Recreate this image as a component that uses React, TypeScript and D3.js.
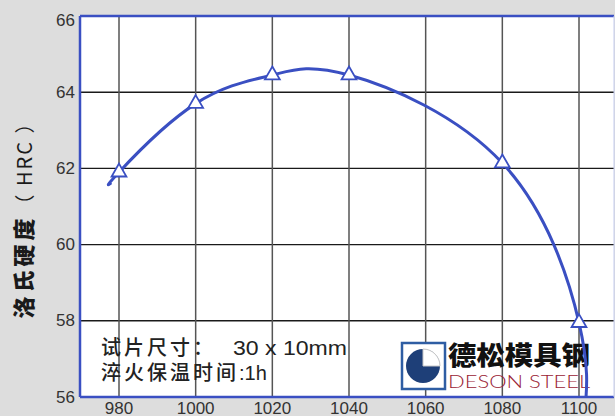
import React, { useEffect } from "react";
import * as d3 from "d3";

// 淬火温度 (°C) vs 洛氏硬度 (HRC)
const temps = [980, 1000, 1020, 1040, 1080, 1100];
const hardness = [61.9, 63.7, 64.45, 64.45, 62.14, 57.95];

// smooth trend curve (ends run past the first / last sample)
const curveTemps = [978, 980, 1000, 1020, 1040, 1080, 1100, 1101.6];
const curveHardness = [61.62, 61.9, 63.7, 64.45, 64.45, 62.14, 57.95, 55.7];

const xTicks = [980, 1000, 1020, 1040, 1060, 1080, 1100];
const yTicks = [56, 58, 60, 62, 64, 66];

const W = 615;
const H = 416;
const plot = { left: 80, top: 16, right: 614, bottom: 397 };

export default function App() {
  useEffect(() => {
    document.body.style.margin = "0";
  }, []);

  const x = d3
    .scaleLinear()
    .domain([980, 1100])
    .range([119, 579]);
  const y = d3
    .scaleLinear()
    .domain([56, 66])
    .range([plot.bottom, plot.top]);

  const line = d3
    .line<number>()
    .x((d) => x(d))
    .y((_, i) => y(curveHardness[i]))
    .curve(d3.curveNatural);

  const tri = d3.symbol().type(d3.symbolTriangle).size(95);

  const blue = "#3a4fc2";
  const font = "'Liberation Sans', Arial, sans-serif";
  const cjk = "'Noto Sans CJK SC', 'Noto Sans', sans-serif";

  return (
    <svg width={W} height={H} style={{ display: "block" }}>
      <defs>
        <clipPath id="plotClip">
          <rect
            x={plot.left}
            y={plot.top}
            width={plot.right - plot.left}
            height={plot.bottom - plot.top}
          />
        </clipPath>
      </defs>
      <rect width={W} height={H} fill="#dddddd" />
      <rect
        x={plot.left}
        y={plot.top}
        width={plot.right - plot.left}
        height={plot.bottom - plot.top}
        fill="#ffffff"
      />

      {/* grid */}
      {yTicks.slice(1, -1).map((t) => (
        <line
          key={"h" + t}
          x1={plot.left}
          x2={plot.right}
          y1={y(t)}
          y2={y(t)}
          stroke="#1a1a1a"
          strokeWidth={1.4}
        />
      ))}
      {xTicks.map((t) => (
        <line
          key={"v" + t}
          x1={x(t)}
          x2={x(t)}
          y1={plot.top}
          y2={plot.bottom}
          stroke="#555"
          strokeWidth={1.5}
        />
      ))}

      {/* note text */}
      <text x={101} y={355} fontFamily={cjk} fontSize={20} fontWeight={500} fill="#222">
        <tspan letterSpacing={3}>试片尺寸：</tspan>
        <tspan x={233} fontFamily={font} fontSize={20} textLength={114} lengthAdjust="spacingAndGlyphs">
          30 x 10mm
        </tspan>
      </text>
      <text x={101} y={380} fontFamily={cjk} fontSize={20} fontWeight={500} fill="#222">
        <tspan letterSpacing={3}>淬火保温时间</tspan>
        <tspan fontFamily={font} fontSize={20}>:1h</tspan>
      </text>

      {/* logo */}
      <g>
        <rect x={402} y={343} width={43} height={46} fill="#fff" stroke="#2e5da3" strokeWidth={2.5} />
        <circle cx={423} cy={366} r={17} fill="#1e3f78" />
        <path d="M423,366 L423,349 A17,17 0 0 1 440,366 Z" fill="#ffffff" stroke="#c8c8c8" strokeWidth={1} />
        <text
          x={448}
          y={365}
          fontFamily={cjk}
          fontSize={26}
          fontWeight={900}
          fill="#111"
          textLength={142}
          lengthAdjust="spacingAndGlyphs"
        >
          德松模具钢
        </text>
        <text
          x={448}
          y={388}
          fontFamily="Lato, 'Open Sans', sans-serif"
          fontSize={17}
          fontWeight={300}
          fill="#9a2234"
          textLength={142}
          lengthAdjust="spacingAndGlyphs"
        >
          DESON STEEL
        </text>
      </g>

      {/* curve */}
      <path
        d={line(curveTemps) ?? ""}
        fill="none"
        stroke={blue}
        strokeWidth={3}
        clipPath="url(#plotClip)"
      />
      {temps.map((t, i) => (
        <path
          key={"m" + t}
          d={tri() ?? ""}
          transform={`translate(${x(t)},${y(hardness[i])})`}
          fill="#fff"
          stroke={blue}
          strokeWidth={1.8}
        />
      ))}

      {/* frame */}
      <line x1={plot.left} x2={plot.right} y1={plot.top} y2={plot.top} stroke={blue} strokeWidth={2.5} />
      <line x1={plot.left} x2={plot.right} y1={plot.bottom} y2={plot.bottom} stroke={blue} strokeWidth={2.5} />
      <line x1={plot.left} x2={plot.left} y1={plot.top} y2={plot.bottom} stroke={blue} strokeWidth={2.5} />
      <line x1={plot.right} x2={plot.right} y1={plot.top} y2={plot.bottom} stroke="#c5cdf0" strokeWidth={1} />

      {/* axis labels */}
      {yTicks.map((t) => (
        <text
          key={"yl" + t}
          x={75}
          y={t === 66 ? y(t) + 4 : y(t)}
          textAnchor="end"
          dominantBaseline="central"
          fontFamily={font}
          fontSize={17}
          fill="#333"
        >
          {t}
        </text>
      ))}
      {xTicks.map((t) => (
        <text
          key={"xl" + t}
          x={x(t)}
          y={414}
          textAnchor="middle"
          fontFamily={font}
          fontSize={17}
          fill="#333"
        >
          {t}
        </text>
      ))}
      <text
        transform="translate(32,215) rotate(-90)"
        textAnchor="middle"
        fontFamily={cjk}
        fill="#1a1a1a"
      >
        <tspan fontSize={22} fontWeight={900} letterSpacing={4}>洛氏硬度</tspan>
        <tspan fontSize={20} fontWeight={400} letterSpacing={2}>（ HRC ）</tspan>
      </text>
    </svg>
  );
}
